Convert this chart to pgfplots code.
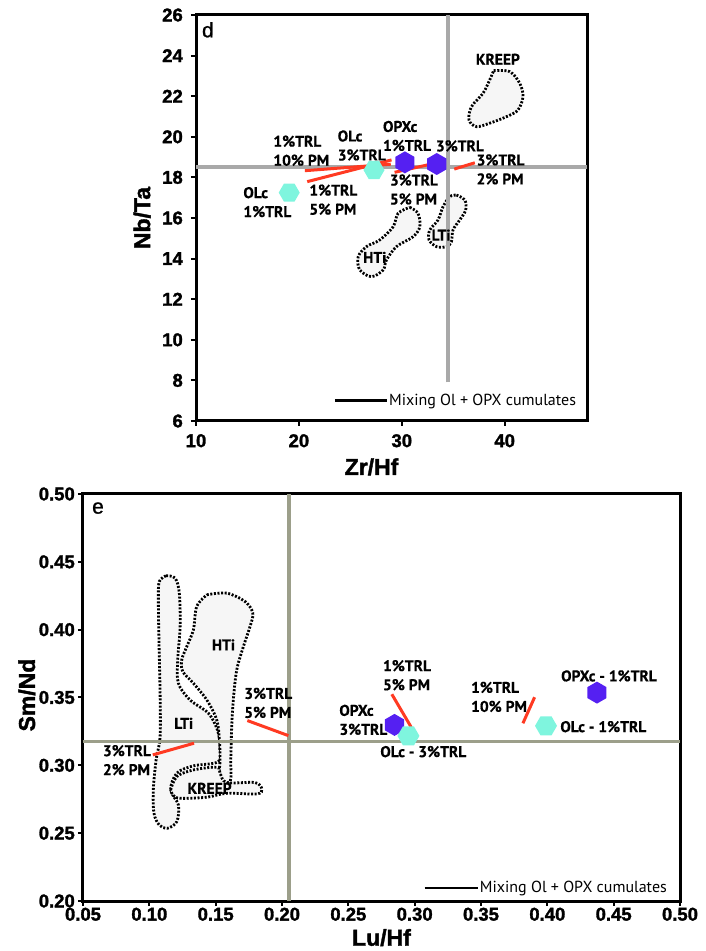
\documentclass[border=0pt]{standalone}
\usepackage{pgfplots}
\pgfplotsset{compat=1.18}
\usepackage{fontspec}
\setmainfont{Liberation Sans}
\newfontfamily\annot{PT Sans}[BoldFeatures={FakeBold=0.6}]
\newfontfamily\tickfont{Liberation Sans Bold}[FakeBold=1.6]
\newfontfamily\letterfont{Liberation Sans}[FakeBold=0.8]
\definecolor{cyanhex}{HTML}{7FF5DE}
\definecolor{purplehex}{HTML}{5520F2}
\definecolor{redline}{HTML}{FF3A22}
\definecolor{greytop}{HTML}{A9A9A9}
\definecolor{greybot}{HTML}{9C9F8A}
\definecolor{regfill}{HTML}{F6F6F6}
\newcommand\annotfont{\annot\bfseries\fontsize{15.5}{19}\selectfont}
\pgfdeclareplotmark{hexflat}{%
  \pgfpathmoveto{\pgfpointpolar{0}{\pgfplotmarksize}}%
  \pgfpathlineto{\pgfpointpolar{60}{\pgfplotmarksize}}%
  \pgfpathlineto{\pgfpointpolar{120}{\pgfplotmarksize}}%
  \pgfpathlineto{\pgfpointpolar{180}{\pgfplotmarksize}}%
  \pgfpathlineto{\pgfpointpolar{240}{\pgfplotmarksize}}%
  \pgfpathlineto{\pgfpointpolar{300}{\pgfplotmarksize}}%
  \pgfpathclose\pgfusepathqfill}
\pgfdeclareplotmark{hexpoint}{%
  \pgfpathmoveto{\pgfpointpolar{30}{\pgfplotmarksize}}%
  \pgfpathlineto{\pgfpointpolar{90}{\pgfplotmarksize}}%
  \pgfpathlineto{\pgfpointpolar{150}{\pgfplotmarksize}}%
  \pgfpathlineto{\pgfpointpolar{210}{\pgfplotmarksize}}%
  \pgfpathlineto{\pgfpointpolar{270}{\pgfplotmarksize}}%
  \pgfpathlineto{\pgfpointpolar{330}{\pgfplotmarksize}}%
  \pgfpathclose\pgfusepathqfill}
\pgfplotsset{
  myaxis/.style={
    scale only axis,
    tick align=outside, tick pos=left,
    major tick length=5pt,
    every tick/.style={black, line width=2pt},
    axis line style={line width=3pt},
    /pgf/number format/assume math mode=true,
    xticklabel={\pgfmathprintnumber{\tick}},
    yticklabel={\pgfmathprintnumber{\tick}},
    tick label style={font=\tickfont\fontsize{18.5}{20}\selectfont, inner sep=2pt},
    label style={font=\tickfont\fontsize{23}{25}\selectfont},
    legend style={draw=none, fill=none, inner sep=0pt,
      font=\annot\fontsize{16}{18}\selectfont,
      nodes={inner sep=1pt}},
    legend cell align=left,
  },
  region/.style={fill=regfill, draw=black, line width=2.8pt,
    dash pattern=on 2pt off 1.6pt, smooth, tension=0.55},
  redl/.style={redline, line width=3pt},
}
\begin{document}
\begin{tikzpicture}
\useasboundingbox (0pt,0pt) rectangle (705pt,951pt);
% ---------------- panel d ----------------
\begin{axis}[myaxis,
  at={(196pt,530pt)}, anchor=south west,
  width=391pt, height=406pt,
  xmin=10, xmax=48, ymin=6, ymax=26,
  xtick={10,20,30,40}, ytick={6,8,10,12,14,16,18,20,22,24,26},
  xticklabel style={yshift=-6pt},
  yticklabel style={xshift=-6pt},
  xlabel={Zr/Hf}, ylabel={Nb/Ta},
  xlabel style={at={(axis description cs:0.449,-0.113)}, anchor=center},
  ylabel style={at={(axis description cs:-0.138,0.5)}, anchor=center},
  legend style={at={(0.975,0.05)}, anchor=east},
]
\addlegendimage{legend image code/.code={\draw[black, line width=2.6pt] (0pt,0pt) -- (52pt,0pt);}}
\addlegendentry{Mixing Ol + OPX cumulates}
% regions
\addplot[region] coordinates {(38.93,23.26) (40.49,23.21) (41.46,22.64) (41.78,21.98) (41.29,21.32) (40.17,20.99) (38.54,20.67) (37.25,20.50) (36.53,20.83) (36.77,21.48) (37.89,22.14) (38.54,22.80) (38.93,23.26)};
\addplot[region] coordinates {(30.78,16.53) (31.58,16.23) (31.75,15.57) (31.10,15.08) (29.49,14.59) (28.51,13.93) (28.19,13.44) (27.06,13.11) (25.92,13.44) (25.76,14.09) (26.57,14.59) (27.86,14.92) (29.16,15.57) (29.64,16.23) (30.78,16.53)};
\addplot[region] coordinates {(35.31,17.13) (36.12,16.89) (36.21,16.39) (35.63,15.90) (34.98,15.41) (34.82,14.83) (34.34,14.59) (33.37,14.59) (32.65,14.92) (32.72,15.41) (33.52,15.90) (34.01,16.56) (34.66,17.05) (35.31,17.13)};
% grey reference lines
\addplot[greytop, line width=3.5pt] coordinates {(34.5,7.9) (34.5,26)};
\addplot[greytop, line width=3.5pt] coordinates {(10,18.5) (48,18.5)};
% hexagons
\addplot[only marks, mark=hexflat, mark size=10.5pt, color=cyanhex] coordinates {(19.06,17.25) (27.3,18.36)};
\addplot[only marks, mark=hexpoint, mark size=11pt, color=purplehex] coordinates {(30.3,18.74) (33.4,18.66)};
% mixing lines
\addplot[redl] coordinates {(20.58,18.33) (28.93,18.65)};
\addplot[redl] coordinates {(20.81,17.79) (29.0,18.86)};
\addplot[redl] coordinates {(29.3,18.25) (33.6,18.74)};
\addplot[redl] coordinates {(35.1,18.41) (37.1,18.72)};
% labels
\begin{scope}[every node/.style={font=\annotfont, align=left, anchor=west, inner sep=0pt}]
\node at (axis cs:28.16,20.04) {OPXc\\1\%TRL};
\node at (axis cs:33.30,19.55) {3\%TRL};
\node at (axis cs:23.76,19.57) {OLc\\3\%TRL};
\node at (axis cs:17.50,19.31) {1\%TRL\\10\% PM};
\node at (axis cs:21.0,16.90) {1\%TRL\\5\% PM};
\node at (axis cs:14.59,16.78) {OLc\\1\%TRL};
\node at (axis cs:28.83,17.40) {3\%TRL\\5\% PM};
\node at (axis cs:37.25,18.39) {3\%TRL\\2\% PM};
\node at (axis cs:37.18,23.82) {KREEP};
\node at (axis cs:26.24,14.06) {HTi};
\node at (axis cs:32.88,15.16) {LTi};
\end{scope}
\node[anchor=north west, inner sep=0pt, font=\letterfont\fontsize{21}{22}\selectfont] at (axis description cs:0.015,0.983) {d};
\end{axis}
% ---------------- panel e ----------------
\begin{axis}[myaxis,
  at={(83pt,50pt)}, anchor=south west,
  width=597pt, height=407pt,
  xmin=0.05, xmax=0.50, ymin=0.20, ymax=0.50,
  xtick={0.05,0.10,0.15,0.20,0.25,0.30,0.35,0.40,0.45,0.50},
  ytick={0.20,0.25,0.30,0.35,0.40,0.45,0.50},
  xticklabel style={yshift=0.5pt, /pgf/number format/.cd, fixed, fixed zerofill, precision=2},
  yticklabel style={xshift=-1pt, /pgf/number format/.cd, fixed, fixed zerofill, precision=2},
  xlabel={Lu/Hf}, ylabel={Sm/Nd},
  xlabel style={at={(axis description cs:0.5,-0.09)}, anchor=center},
  ylabel style={at={(axis description cs:-0.094,0.506)}, anchor=center},
  legend style={at={(0.98,0.032)}, anchor=east},
]
\addlegendimage{legend image code/.code={\draw[black, line width=2.6pt] (0pt,0pt) -- (53pt,0pt);}}
\addlegendentry{Mixing Ol + OPX cumulates}
% regions
\addplot[region] coordinates {(0.1126,0.4397) (0.1194,0.4380) (0.1226,0.4269) (0.1232,0.4023) (0.1214,0.3777) (0.1219,0.3605) (0.1307,0.3482) (0.1445,0.3384) (0.1513,0.3261) (0.1533,0.3138) (0.1520,0.3027) (0.1332,0.2996) (0.1207,0.2942) (0.1161,0.2819) (0.1219,0.2708) (0.1207,0.2585) (0.1136,0.2536) (0.1075,0.2560) (0.1035,0.2647) (0.1030,0.2819) (0.1051,0.3040) (0.1081,0.3212) (0.1081,0.3532) (0.1073,0.3900) (0.1068,0.4220) (0.1075,0.4355) (0.1126,0.4397)};
\addplot[region] coordinates {(0.1433,0.4257) (0.1584,0.4269) (0.1722,0.4207) (0.1780,0.4122) (0.1759,0.4023) (0.1709,0.3875) (0.1659,0.3704) (0.1633,0.3482) (0.1621,0.3285) (0.1614,0.3040) (0.1609,0.2880) (0.1528,0.2880) (0.1533,0.3040) (0.1528,0.3187) (0.1508,0.3335) (0.1433,0.3482) (0.1332,0.3605) (0.1252,0.3691) (0.1244,0.3777) (0.1282,0.3875) (0.1332,0.3999) (0.1357,0.4170) (0.1433,0.4257)};
\addplot[region] coordinates {(0.1161,0.2819) (0.1207,0.2917) (0.1332,0.2966) (0.1508,0.2986) (0.1533,0.2942) (0.1584,0.2873) (0.1797,0.2873) (0.1848,0.2824) (0.1810,0.2789) (0.1584,0.2794) (0.1433,0.2765) (0.1232,0.2757) (0.1177,0.2782) (0.1161,0.2819)};
% grey reference lines
\addplot[greybot, line width=3.5pt] coordinates {(0.2054,0.20) (0.2054,0.50)};
\addplot[greybot, line width=3.5pt] coordinates {(0.05,0.3175) (0.50,0.3175)};
% hexagons
\addplot[only marks, mark=hexpoint, mark size=11pt, color=purplehex] coordinates {(0.2848,0.3298) (0.4374,0.3536)};
\addplot[only marks, mark=hexflat, mark size=11pt, color=cyanhex] coordinates {(0.2953,0.3217) (0.3990,0.3291)};
% mixing lines
\addplot[redl] coordinates {(0.2828,0.3524) (0.2974,0.3281)};
\addplot[redl] coordinates {(0.3904,0.3502) (0.3816,0.3310)};
\addplot[redl] coordinates {(0.1739,0.3330) (0.2048,0.3219)};
\addplot[redl] coordinates {(0.1026,0.3077) (0.1337,0.3163)};
% labels
\begin{scope}[every node/.style={font=\annotfont, align=left, anchor=west, inner sep=0pt}]
\node at (axis cs:0.4103,0.3659) {OPXc - 1\%TRL};
\node at (axis cs:0.4097,0.3285) {OLc - 1\%TRL};
\node at (axis cs:0.3424,0.3504) {1\%TRL\\10\% PM};
\node at (axis cs:0.2760,0.3664) {1\%TRL\\5\% PM};
\node at (axis cs:0.2431,0.3335) {OPXc\\3\%TRL};
\node at (axis cs:0.2740,0.3101) {OLc - 3\%TRL};
\node at (axis cs:0.1714,0.3460) {3\%TRL\\5\% PM};
\node at (axis cs:0.0649,0.3038) {3\%TRL\\2\% PM};
\node at (axis cs:0.1471,0.3888) {HTi};
\node at (axis cs:0.1186,0.3310) {LTi};
\node at (axis cs:0.1287,0.2831) {KREEP};
\end{scope}
\node[anchor=north west, inner sep=0pt, font=\letterfont\fontsize{21}{22}\selectfont] at (axis description cs:0.015,0.98) {e};
\end{axis}
\end{tikzpicture}
\end{document}
